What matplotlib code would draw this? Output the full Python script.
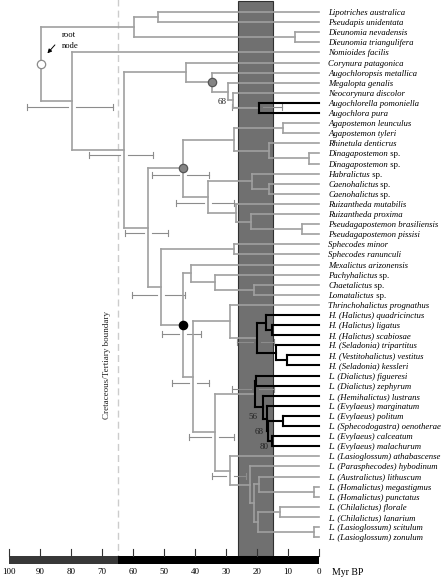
import matplotlib
matplotlib.use('Agg')
import matplotlib.pyplot as plt
from matplotlib.patches import Rectangle

plt.rcParams['font.family'] = ['Liberation Serif', 'DejaVu Serif']

# ------ Data ------
TAXA = [
    'Lipotriches australica', 'Pseudapis unidentata', 'Dieunomia nevadensis',
    'Dieunomia triangulifera', 'Nomioides facilis', 'Corynura patagonica',
    'Augochloropsis metallica', 'Megalopta genalis', 'Neocorynura discolor',
    'Augochlorella pomoniella', 'Augochlora pura', 'Agapostemon leunculus',
    'Agapostemon tyleri', 'Rhinetula denticrus', 'Dinagapostemon sp.',
    'Dinagapostemon sp.', 'Habralictus sp.', 'Caenohalictus sp.',
    'Caenohalictus sp.', 'Ruizantheda mutabilis', 'Ruizantheda proxima',
    'Pseudagapostemon brasiliensis', 'Pseudagapostemon pissisi',
    'Sphecodes minor', 'Sphecodes ranunculi', 'Mexalictus arizonensis',
    'Pachyhalictus sp.', 'Chaetalictus sp.', 'Lomatalictus sp.',
    'Thrinchohalictus prognathus', 'H. (Halictus) quadricinctus',
    'H. (Halictus) ligatus', 'H. (Halictus) scabiosae',
    'H. (Seladonia) tripartitus', 'H. (Vestitohalictus) vestitus',
    'H. (Seladonia) kessleri', 'L. (Dialictus) figueresi',
    'L. (Dialictus) zephyrum', 'L. (Hemihalictus) lustrans',
    'L. (Evylaeus) marginatum', 'L. (Evylaeus) politum',
    'L. (Sphecodogastra) oenotherae', 'L. (Evylaeus) calceatum',
    'L. (Evylaeus) malachurum', 'L. (Lasioglossum) athabascense',
    'L. (Parasphecodes) hybodinum', 'L. (Australictus) lithuscum',
    'L. (Homalictus) megastigmus', 'L. (Homalictus) punctatus',
    'L. (Chilalictus) florale', 'L. (Chilalictus) lanarium',
    'L. (Lasioglossum) scitulum', 'L. (Lasioglossum) zonulum',
]

# internal nodes: children (tip index or node name) and age (Myr BP)
NODE_NAMES = ['root', 'nom1', 'lippse', 'dieu', 'na', 'nb', 'aug', 'augB',
              'augC', 'augD', 'augE', 'nc', 'gc', 'agall', 'agap', 'rhin',
              'dina', 'F', 'hab', 'caeno', 'ruiz', 'ruiz2', 'pseud', 'nd',
              'sph', 'bc', 'mex', 'pachy', 'chaet', 'hl', 'thr', 'H0', 'H1',
              'H2', 'H3', 'H4', 'las', 'L0', 'L1', 'L2', 'L3', 'L4', 'L5',
              'L6', 'G0', 'G1', 'G2', 'G3', 'G5', 'G4', 'G6', 'G7']
NODE_CHILDREN = [('nom1', 'na'), ('lippse', 'dieu'), (0, 1), (2, 3),
                 (4, 'nb'), ('aug', 'nc'), (5, 'augB'), (6, 'augC'),
                 (7, 'augD'), (8, 'augE'), (9, 10), ('gc', 'nd'),
                 ('agall', 'F'), ('agap', 'rhin'), (11, 12), (13, 'dina'),
                 (14, 15), ('hab', 'ruiz'), (16, 'caeno'), (17, 18),
                 (19, 'ruiz2'), (20, 'pseud'), (21, 22), ('sph', 'bc'),
                 (23, 24), ('mex', 'hl'), (25, 'pachy'), (26, 'chaet'),
                 (27, 28), ('thr', 'las'), (29, 'H0'), ('H1', 'H3'),
                 (30, 'H2'), (31, 32), (33, 'H4'), (34, 35), ('L0', 'G0'),
                 ('L1', 'L2'), (36, 37), (38, 'L3'), (39, 'L4'), ('L5', 'L6'),
                 (40, 41), (42, 43), (44, 'G1'), (45, 'G2'), ('G3', 'G4'),
                 (46, 'G5'), (47, 48), ('G6', 'G7'), (49, 50), (51, 52)]
NODE_AGES = [89.8, 59.6, 51.8, 7.7, 79.8, 62.9, 43.0, 34.5, 29.3, 27.8, 19.5,
             55.1, 43.8, 27.4, 11.7, 16.1, 3.1, 35.7, 21.5, 16.1, 26.8, 21.9,
             5.6, 51.0, 27.6, 43.8, 41.4, 33.5, 21.0, 40.7, 28.7, 19.9, 17.2,
             15.1, 14.0, 10.2, 33.5, 20.6, 20.3, 18.2, 16.9, 16.5, 11.5, 15.3,
             28.7, 22.3, 20.9, 19.4, 1.8, 19.8, 12.6, 1.8]

BLACK_CLADES = ['augE', 'H0', 'L0']

# confidence intervals (older, younger)
ERR_NODES = ['na', 'nb', 'nc', 'gc', 'F', 'augE', 'nd', 'bc', 'H0', 'hl',
             'L0', 'las', 'G0']
ERR_OLD = [94.1, 74.1, 62.6, 54.0, 46.1, 28.1, 60.4, 50.5, 26.5, 47.5, 28.2,
           41.8, 34.6]
ERR_YOUNG = [66.5, 53.5, 48.6, 35.4, 27.4, 12.0, 43.2, 38.2, 14.5, 35.4,
             14.4, 27.3, 23.5]
ERR_DY = [0.6, 0.45, 0.55, 0.65, 0.6, -0.1, 0.75, 0.9, 0.4, 0.6, -0.5, 0.5,
          0.55]

SUPPORT_TEXT = ['68', '56', '68', '80']
SUPPORT_AGE = [31.4, 21.3, 19.4, 17.7]
SUPPORT_Y = [8.94, 40.07, 41.55, 43.07]

CIRCLE_NODES = ['root', 'augB', 'gc', 'bc']
CIRCLE_FILL = ['white', '#858585', '#858585', 'black']
CIRCLE_EDGE = ['#8a8a8a', '#555555', '#555555', 'black']

SCALE_TICKS = list(range(0, 101, 10))
KT_BOUNDARY = 65
BAND = (15, 26)

GREY = '#a0a0a0'
LABEL_SIZE = 6.3

# ------ Tree layout ------
kids = dict(zip(NODE_NAMES, NODE_CHILDREN))
ages = dict(zip(NODE_NAMES, NODE_AGES))
ypos = {}


def y_of(n):
    if isinstance(n, int):
        return float(n)
    if n not in ypos:
        ypos[n] = sum(y_of(c) for c in kids[n]) / len(kids[n])
    return ypos[n]


def age_of(n):
    return 0.0 if isinstance(n, int) else ages[n]


black = set()


def mark_black(n):
    if isinstance(n, int):
        return
    black.add(n)
    for c in kids[n]:
        mark_black(c)


for b in BLACK_CLADES:
    mark_black(b)

# ------ Figure ------
fig = plt.figure(figsize=(4.45, 5.79), dpi=100)
ax = fig.add_axes([0, 0, 1, 1])
ax.set_xlim(102.9, -40.6)
ax.set_ylim(56.14, -1.19)
ax.axis('off')

bar_top, bar_h = 53.83, 0.82

# grey time band
ax.add_patch(Rectangle((BAND[0], -1.09), BAND[1] - BAND[0], bar_top + 1.09,
                       facecolor='#707070', edgecolor='#303030', lw=0.8,
                       zorder=0))
# K/T boundary
ax.plot([KT_BOUNDARY, KT_BOUNDARY], [-1.3, bar_top], color='#cccccc', lw=1.0,
        ls=(0, (5, 3)), zorder=0.5)
ax.text(68.5, 34.95, 'Cretaceous/Tertiary boundary', rotation=90,
        ha='center', va='center', fontsize=6.5, color='#222222')

# branches
for n in NODE_NAMES:
    col = 'black' if n in black else GREY
    lw = 1.5 if n in black else 1.2
    cy = [y_of(c) for c in kids[n]]
    ax.plot([ages[n], ages[n]], [min(cy), max(cy)], color=col, lw=lw,
            solid_capstyle='projecting', zorder=3)
    for c in kids[n]:
        ax.plot([ages[n], age_of(c)], [y_of(c), y_of(c)], color=col, lw=lw,
                solid_capstyle='projecting', zorder=3)

# confidence intervals
gap = 1.3
for n, lo, hi, dy in zip(ERR_NODES, ERR_OLD, ERR_YOUNG, ERR_DY):
    yy = y_of(n) + dy
    a = ages[n]
    ax.plot([lo, a + gap], [yy, yy], color='#8c8c8c', lw=0.8, zorder=2)
    ax.plot([a - gap, hi], [yy, yy], color='#8c8c8c', lw=0.8, zorder=2)
    for e in (lo, hi):
        ax.plot([e, e], [yy - 0.3, yy + 0.3], color='#8c8c8c', lw=0.8,
                zorder=2)

# node circles
for n, fc, ec in zip(CIRCLE_NODES, CIRCLE_FILL, CIRCLE_EDGE):
    ax.plot(ages[n], y_of(n), 'o', ms=6, mfc=fc, mec=ec, mew=0.9, zorder=5)

# support values
for t, a, yy in zip(SUPPORT_TEXT, SUPPORT_AGE, SUPPORT_Y):
    ax.text(a, yy, t, fontsize=6.5, ha='center', va='center', color='#222222',
            zorder=6)

# root node annotation
ax.text(83.0, 2.28, 'root', fontsize=6.2, ha='left', va='center')
ax.text(83.0, 3.37, 'node', fontsize=6.2, ha='left', va='center')
ax.annotate('', xy=(88.2, 4.3), xytext=(84.6, 3.05),
            arrowprops=dict(arrowstyle='-|>', color='black', lw=0.7,
                            mutation_scale=6))

# taxon labels ("sp." set upright after the italic genus)
renderer = fig.canvas.get_renderer()
px_per_myr = ax.transData.transform((0, 0))[0] - ax.transData.transform((1, 0))[0]
for i, name in enumerate(TAXA):
    if name.endswith(' sp.'):
        t = ax.text(-2.9, i, name[:-4], fontsize=LABEL_SIZE, style='italic',
                    ha='left', va='center_baseline')
        w = t.get_window_extent(renderer).width / px_per_myr
        ax.text(-2.9 - w, i, ' sp.', fontsize=LABEL_SIZE, ha='left',
                va='center_baseline')
    else:
        ax.text(-2.9, i, name, fontsize=LABEL_SIZE, style='italic', ha='left',
                va='center_baseline')

# time scale bar
ax.add_patch(Rectangle((KT_BOUNDARY, bar_top), 100 - KT_BOUNDARY, bar_h,
                       facecolor='#383838', edgecolor='none', zorder=4))
ax.add_patch(Rectangle((0, bar_top), KT_BOUNDARY, bar_h,
                       facecolor='black', edgecolor='none', zorder=4))
for t in SCALE_TICKS:
    ax.plot([t, t], [bar_top - 0.62, bar_top], color='#333333', lw=0.8,
            zorder=4)
    ax.text(t, 55.42, str(t), fontsize=6.5, ha='center', va='center')
ax.text(-4.2, 55.5, 'Myr BP', fontsize=7, ha='left', va='center')

fig.savefig('out.png', dpi=100)
